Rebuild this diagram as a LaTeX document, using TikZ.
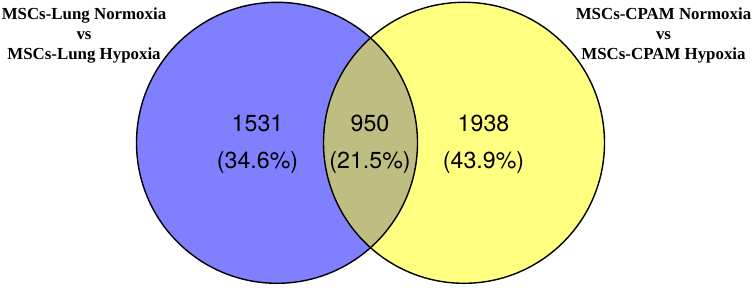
\documentclass[tikz,border=0pt]{standalone}
\usepackage{fontspec}
\newfontfamily\numfont{TeX Gyre Heros}
\newfontfamily\ttlfont{Liberation Serif}
\usetikzlibrary{positioning}
\definecolor{vennblue}{HTML}{8080FF}
\definecolor{vennyellow}{HTML}{FFFF80}
\definecolor{vennolive}{HTML}{BFBE82}

\begin{document}
\begin{tikzpicture}[
  setcirc/.style={circle, draw=none, minimum size=5.62cm, inner sep=0pt},
  rim/.style={line width=0.8pt, draw=black},
  countlbl/.style={font=\numfont\fontsize{13.2}{21}\selectfont, align=center},
  setlbl/.style={font=\ttlfont\bfseries\fontsize{9.6}{11.6}\selectfont, align=center},
]
\useasboundingbox (0,0) rectangle (15.08,5.74);
% ---- circle geometry ----
\def\rr{2.81}   % radius (cm)
\node[setcirc, fill=vennblue]   (lung) at (5.54,2.884) {};
\node[setcirc, fill=vennyellow] (cpam) at (9.28,2.884) {};

% ---- overlap lens ----
\begin{scope}
  \clip (lung.center) circle (\rr);
  \fill[vennolive] (cpam.center) circle (\rr);
\end{scope}
\draw[rim] (lung.center) circle (\rr);
\draw[rim] (cpam.center) circle (\rr);

% ---- counts ----
\node[countlbl] (onlylung) at (5.15,2.86) {1531\\(34.6\%)};
\node[countlbl] (both)     at (7.40,2.86) {950\\(21.5\%)};
\node[countlbl] (onlycpam) at (9.67,2.86) {1938\\(43.9\%)};

% ---- set titles ----
\node[setlbl] (lungttl) at (1.68,5.03) {MSCs-Lung Normoxia\\vs\\MSCs-Lung Hypoxia};
\node[setlbl] (cpamttl) at (13.27,5.03) {MSCs-CPAM Normoxia\\vs\\MSCs-CPAM Hypoxia};
\end{tikzpicture}
\end{document}
